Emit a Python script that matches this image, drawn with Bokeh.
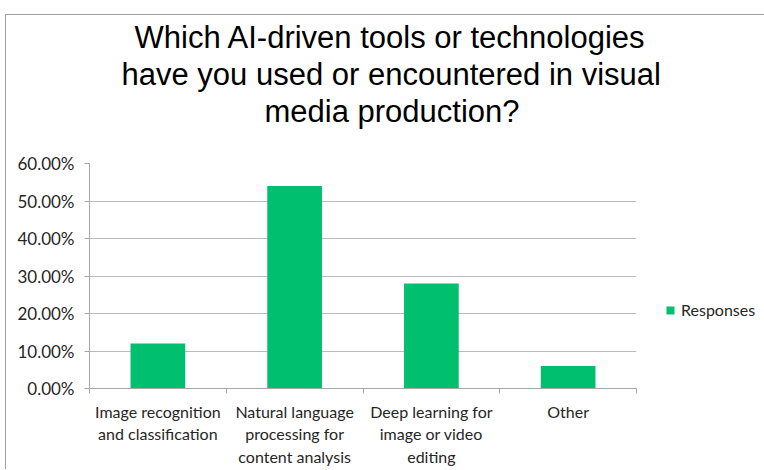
from bokeh.plotting import figure
from bokeh.models import (Range1d, FixedTicker, NumeralTickFormatter, Legend, LegendItem, Title, ColumnDataSource)
from bokeh.embed import file_html
from bokeh.resources import INLINE

categories = ["Image recognition\nand classification",
              "Natural language\nprocessing for\ncontent analysis",
              "Deep learning for\nimage or video\nediting",
              "Other"]
values = [0.12, 0.54, 0.28, 0.06]
series_name = "Responses"
title_lines = ["Which AI-driven tools or technologies",
               "have you used or encountered in visual",
               "media production?"]
title_offsets = [45, 32, 175]  # left offsets (px) from the plot frame, to centre lines over the chart area
y_ticks = [0.0, 0.1, 0.2, 0.3, 0.4, 0.5, 0.6]

GREEN = "#00BF6F"
FONT = "Lato"

xs = [i + 0.5 for i in range(len(categories))]
src = ColumnDataSource(dict(x=xs, top=values))

p = figure(frame_width=547, frame_height=225, output_backend="svg", toolbar_location=None,
           x_range=Range1d(0, len(categories)), y_range=Range1d(0, 0.6),
           min_border_left=83, min_border_top=148, min_border_right=122, min_border_bottom=66)
p.margin = (14, 0, 0, 5)
p.styles = {"border-left": "1px solid #A0A0A0", "border-top": "1px solid #A0A0A0"}
p.outline_line_color = None
p.background_fill_color = "white"
p.border_fill_color = "white"

r = p.vbar(x="x", top="top", width=0.4, source=src, fill_color=GREEN, line_color=None)

# spacer between title and plot area, then title lines (added bottom-first so they stack upward)
p.add_layout(Title(text=" ", text_font_size="1px", standoff=32), "above")
for t, off in reversed(list(zip(title_lines, title_offsets))):
    p.add_layout(Title(text=t, align="left", offset=off, text_font="Liberation Sans",
                       text_font_size="31px", text_font_style="normal", text_color="black",
                       text_line_height=0.9, standoff=0), "above")

# y axis
p.yaxis.ticker = FixedTicker(ticks=y_ticks)
p.yaxis.formatter = NumeralTickFormatter(format="0.00%")
p.yaxis.major_label_text_font = FONT
p.yaxis.major_label_text_font_size = "17px"
p.yaxis.major_label_text_color = "#262626"
p.yaxis.major_tick_out = 5
p.yaxis.major_tick_in = 0
p.yaxis.minor_tick_line_color = None
p.yaxis.axis_line_color = "#A6A6A6"
p.yaxis.major_tick_line_color = "#A6A6A6"
p.yaxis.major_label_standoff = 10

# x axis
p.xaxis.ticker = FixedTicker(ticks=xs, minor_ticks=list(range(len(categories) + 1)))
p.xaxis.major_label_overrides = {x: c for x, c in zip(xs, categories)}
p.xaxis.major_tick_line_color = None
p.xaxis.minor_tick_out = 5
p.xaxis.minor_tick_in = 0
p.xaxis.minor_tick_line_color = "#A6A6A6"
p.xaxis.axis_line_color = "#A6A6A6"
p.xaxis.major_label_text_font = FONT
p.xaxis.major_label_text_font_size = "16px"
p.xaxis.major_label_text_color = "#262626"
p.xaxis.major_label_standoff = 7

p.xgrid.grid_line_color = None
p.ygrid.ticker = FixedTicker(ticks=y_ticks)
p.ygrid.grid_line_color = "#BBBBBB"

legend = Legend(items=[LegendItem(label=series_name, renderers=[r])],
                location=(29, 69), padding=0, margin=0, border_line_color=None,
                glyph_width=10, glyph_height=10, label_standoff=6,
                label_text_font=FONT, label_text_font_size="16px", label_text_color="#262626",
                background_fill_alpha=0)
p.add_layout(legend, "right")

open("out.html", "w").write(file_html(p, INLINE))
